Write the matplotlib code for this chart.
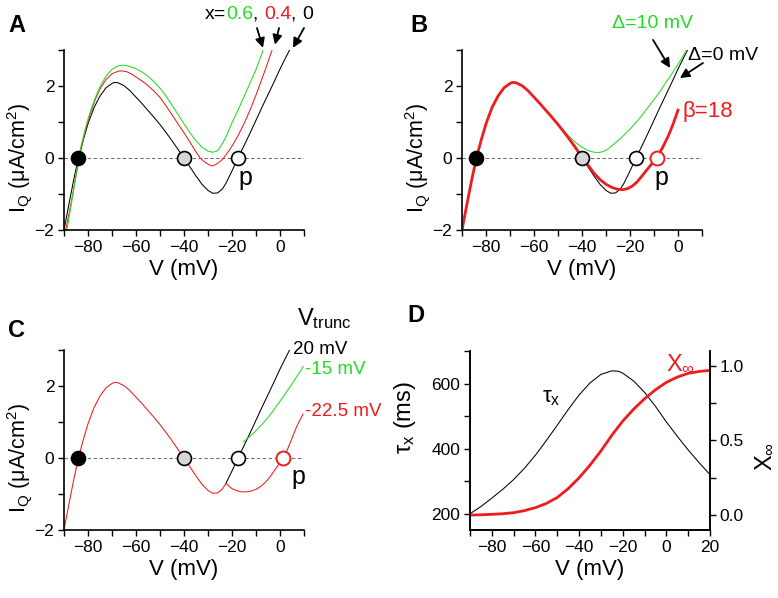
import matplotlib
matplotlib.use('Agg')
import matplotlib.pyplot as plt
from matplotlib.ticker import MultipleLocator, FormatStrFormatter

plt.rcParams['font.family'] = ['Liberation Sans', 'DejaVu Sans']
plt.rcParams['mathtext.default'] = 'regular'

W, H = 778, 598
GREEN = '#22dd22'
RED = '#ee1c1c'
GREY_FILL = '#d6d6d6'

# ---- panel A: I-V curves, x = 0 (black), 0.4 (red), 0.6 (green)
v_x0 = [-90, -88, -86, -84, -82, -80, -77.5, -75, -72.5, -70, -69, -67.5, -65, -62.5, -60,
        -57.5, -55, -52.5, -50, -47.5, -45, -42.5, -40, -37.5, -35, -32.5, -30, -28, -26,
        -24, -22.5, -20, -17.5, -15, -12.5, -10, -7.5, -5, -2.5, 0, 2, 4]
i_x0 = [-2.0, -1.3, -0.62, 0.0, 0.5, 0.95, 1.4, 1.72, 1.95, 2.07, 2.1, 2.09, 2.01, 1.87, 1.69,
        1.51, 1.32, 1.13, 0.93, 0.71, 0.48, 0.24, 0.0, -0.25, -0.5, -0.73, -0.9, -0.98, -0.97,
        -0.86, -0.7, -0.36, 0.0, 0.34, 0.69, 1.05, 1.41, 1.76, 2.11, 2.47, 2.74, 3.0]

v_x04 = [-89.3, -87, -85, -83, -81, -79, -77, -75, -72.5, -70, -67.5, -66, -64, -62, -60,
         -57.5, -55, -52.5, -50, -47.5, -45, -42.5, -40, -37.5, -35, -33.3, -31, -29.5, -28,
         -26.5, -25, -23.5, -22, -20, -17.5, -15, -12.5, -10, -7.5, -5, -3.3]
i_x04 = [-2.0, -1.25, -0.5, 0.2, 0.78, 1.25, 1.62, 1.92, 2.18, 2.34, 2.41, 2.42, 2.4, 2.34, 2.25,
         2.14, 2.01, 1.86, 1.68, 1.45, 1.2, 0.95, 0.7, 0.44, 0.17, 0.0, -0.13, -0.19, -0.22,
         -0.17, -0.1, 0.0, 0.13, 0.33, 0.62, 0.95, 1.33, 1.75, 2.2, 2.67, 3.0]

v_x06 = [-88.8, -87, -85, -83, -81, -79, -77, -75, -72.5, -70, -67.5, -65.5, -63, -60, -57.5,
         -55, -52.5, -50, -47.5, -45, -42.5, -40, -37.5, -35, -32.5, -30, -28, -26, -24, -22,
         -20, -17.5, -15, -12.5, -10, -7]
i_x06 = [-2.0, -1.3, -0.45, 0.3, 0.85, 1.3, 1.67, 1.98, 2.28, 2.46, 2.56, 2.58, 2.55, 2.48, 2.39,
         2.27, 2.12, 1.94, 1.72, 1.47, 1.21, 0.95, 0.7, 0.48, 0.3, 0.19, 0.16, 0.2, 0.4, 0.66,
         0.98, 1.33, 1.7, 2.08, 2.46, 3.0]

fixed_v = [-84, -40, -17.5]

# ---- panel B: the Delta = 0 curve is the x = 0 curve; the others leave it past these points
v_d10_tail = [-57.5, -55, -52.5, -50, -47.5, -45, -42.5, -40, -37.5, -35, -33.2, -31, -29, -27,
              -24, -20, -16, -12, -8, -4, 0, 3.6]
i_d10_tail = [1.51, 1.32, 1.13, 0.94, 0.75, 0.58, 0.42, 0.3, 0.21, 0.16, 0.15, 0.18, 0.26, 0.37,
              0.54, 0.8, 1.1, 1.45, 1.8, 2.2, 2.6, 3.0]

v_b18_tail = [-47.5, -45, -42.5, -40, -37.5, -35, -32.5, -30, -27.5, -25, -23, -21, -19, -17,
              -15, -13, -11, -8.9, -6.5, -4, -2, 0]
i_b18_tail = [0.72, 0.5, 0.27, 0.02, -0.2, -0.42, -0.6, -0.73, -0.82, -0.87, -0.88, -0.85, -0.78,
              -0.66, -0.5, -0.33, -0.17, 0.0, 0.28, 0.62, 0.95, 1.33]
p_v_b = -8.9

# ---- panel C: truncation at -22.5 mV (red), -15 mV (green), 20 mV (black)
v_trunc_red = [-22.5, -21, -20, -18, -16, -14, -12, -10, -8, -6, -4, -2, 0, 1.4, 3, 5, 7, 9.6]
i_trunc_red = [-0.7, -0.8, -0.85, -0.91, -0.94, -0.94, -0.92, -0.87, -0.79, -0.67, -0.51,
               -0.32, -0.13, 0.0, 0.22, 0.55, 0.88, 1.22]
v_trunc_green = [-15.3, -12.5, -9.7, -7, -4.2, -1, 2.8, 5, 7, 9.7]
i_trunc_green = [0.45, 0.6, 0.78, 0.97, 1.19, 1.48, 1.84, 2.06, 2.26, 2.54]
p_v_c = 1.4

# ---- panel D: tau_x and x_inf
v_d = [-90, -85, -80, -75, -70, -65, -60, -55, -50, -45, -40, -35, -30, -25, -22,
       -20, -15, -10, -5, 0, 5, 10, 15, 20]
tau_x = [200, 222, 248, 275, 305, 340, 380, 425, 472, 520, 565, 602, 628, 639, 638,
         632, 608, 573, 530, 482, 438, 396, 357, 320]
v_xinf = [-90, -85, -80, -75, -70, -65, -60, -55, -50, -45, -40, -35, -30, -25, -20,
          -15, -10, -5, 0, 5, 10, 15, 20]
x_inf = [0.0, 0.002, 0.005, 0.009, 0.016, 0.03, 0.05, 0.078, 0.118, 0.177, 0.25, 0.335,
         0.43, 0.535, 0.63, 0.71, 0.78, 0.84, 0.89, 0.925, 0.95, 0.963, 0.97]


def box(left, top, right, bottom):
    return [left / W, 1 - bottom / H, (right - left) / W, (bottom - top) / H]


def px(x, y):
    return x / W, 1 - y / H


def style_iv(ax):
    ax.set_xlim(-90, 10)
    ax.set_ylim(-2, 3)
    ax.spines[['top', 'right']].set_visible(False)
    for s in ax.spines.values():
        s.set_linewidth(1.2)
    ax.xaxis.set_major_locator(MultipleLocator(20))
    ax.xaxis.set_minor_locator(MultipleLocator(10))
    ax.yaxis.set_major_locator(MultipleLocator(2))
    ax.yaxis.set_minor_locator(MultipleLocator(1))
    ax.tick_params(which='both', direction='out', length=4, width=1.0, labelsize=12.5, pad=3)
    ax.axhline(0, color='0.3', lw=0.6, ls=(0, (4, 3)), zorder=1)
    ax.set_xlabel('V (mV)', fontsize=16, labelpad=3)
    ax.set_ylabel('I$_Q$ (μA/cm$^2$)', fontsize=15.5)
    ax.yaxis.set_label_coords(-0.125, 0.4)


def fixed_points(ax):
    kw = dict(ms=10, mew=1.2, ls='none', zorder=5, clip_on=False)
    ax.plot(fixed_v[0], 0, 'o', mfc='black', mec='black', **kw)
    ax.plot(fixed_v[1], 0, 'o', mfc=GREY_FILL, mec='black', **kw)
    ax.plot(fixed_v[2], 0, 'o', mfc='white', mec='black', **kw)


fig = plt.figure(figsize=(W / 100, H / 100), dpi=100)
axA = fig.add_axes(box(64, 50, 304, 230))
axB = fig.add_axes(box(462, 50, 702, 230))
axC = fig.add_axes(box(64, 350, 304, 530))
axD = fig.add_axes(box(470, 351, 710, 530))

thin = 0.75
thick = 2.0
arrow = dict(arrowstyle='-|>', color='black', lw=1.3, mutation_scale=14, shrinkA=0, shrinkB=0)

# A
style_iv(axA)
axA.plot(v_x0, i_x0, color='black', lw=thin)
axA.plot(v_x04, i_x04, color=RED, lw=thin)
axA.plot(v_x06, i_x06, color=GREEN, lw=thin)
fixed_points(axA)
axA.text(-14.5, -0.56, 'p', fontsize=18, ha='center', va='center')

t = fig.text(*px(205, 19), 'x=', fontsize=14, va='baseline')
for s, c in [('0.6', GREEN), (', ', 'black'), ('0.4', RED), (', ', 'black'), ('0', 'black')]:
    t = axA.annotate(s, xy=(1, 0), xycoords=t, va='bottom', fontsize=14, color=c)
for (x0, y0), (x1, y1) in [((-9.6, 3.61), (-7.1, 3.06)), ((-0.4, 3.61), (-2.1, 3.15)),
                           ((10.0, 3.61), (5.4, 3.06))]:
    axA.annotate('', xy=(x1, y1), xytext=(x0, y0), arrowprops=arrow, annotation_clip=False)

# B
style_iv(axB)
k60 = v_x0.index(-60)
k50 = v_x0.index(-50)
axB.plot(v_x0, i_x0, color='black', lw=thin)
axB.plot(v_x0[:k60 + 1] + v_d10_tail, i_x0[:k60 + 1] + i_d10_tail, color=GREEN, lw=thin)
axB.plot(v_x0[:k50 + 1] + v_b18_tail, i_x0[:k50 + 1] + i_b18_tail, color=RED, lw=thick)
fixed_points(axB)
axB.plot(p_v_b, 0, 'o', ms=10, mew=1.4, mfc='white', mec=RED, zorder=6)
axB.text(-7.0, -0.56, 'p', fontsize=18, ha='center', va='center')
fig.text(*px(612, 23), 'Δ=10 mV', fontsize=14, color=GREEN, va='center')
fig.text(*px(688, 55), 'Δ=0 mV', fontsize=14, color='black', va='center')
fig.text(*px(683, 112), 'β=18', fontsize=16, color=RED, va='center')
axB.annotate('', xy=(-3.3, 2.5), xytext=(-10.4, 3.28), arrowprops=arrow, annotation_clip=False)
axB.annotate('', xy=(0.8, 2.22), xytext=(10.4, 2.64), arrowprops=arrow, annotation_clip=False)

# C
style_iv(axC)
k = v_x0.index(-22.5)
axC.plot(v_x0[k:], i_x0[k:], color='black', lw=thin)
axC.plot(v_trunc_green, i_trunc_green, color=GREEN, lw=thin)
axC.plot(v_x0[:k] + v_trunc_red, i_x0[:k] + i_trunc_red, color=RED, lw=thin)
fixed_points(axC)
axC.plot(p_v_c, 0, 'o', ms=10, mew=1.4, mfc='white', mec=RED, zorder=6, clip_on=False)
axC.text(7.5, -0.53, 'p', fontsize=18, ha='center', va='center')
fig.text(*px(297, 319), 'V$_{trunc}$', fontsize=17, va='center')
fig.text(*px(293, 349), '20 mV', fontsize=13.5, va='center')
fig.text(*px(305, 370), '-15 mV', fontsize=13.5, color=GREEN, va='center')
fig.text(*px(305, 412), '-22.5 mV', fontsize=13.5, color=RED, va='center')

# D
axD.set_xlim(-90, 20)
axD.set_ylim(150, 700)
axD.spines['top'].set_visible(False)
for s in axD.spines.values():
    s.set_linewidth(1.2)
axD.xaxis.set_major_locator(MultipleLocator(20))
axD.xaxis.set_minor_locator(MultipleLocator(10))
axD.yaxis.set_major_locator(MultipleLocator(200))
axD.yaxis.set_minor_locator(MultipleLocator(100))
axD.tick_params(which='both', direction='out', length=4, width=1.0, labelsize=12.5, pad=3)
axD.plot(v_d, tau_x, color='black', lw=thin)
axD.set_xlabel('V (mV)', fontsize=16, labelpad=3)
axD.set_ylabel('τ$_x$ (ms)', fontsize=17)
axD.yaxis.set_label_coords(-0.215, 0.63)
axD.text(-52.8, 557, 'τ$_x$', fontsize=16, ha='center', va='center')

axD2 = axD.twinx()
axD2.set_ylim(-0.1, 1.1)
axD2.spines['top'].set_visible(False)
for s in axD2.spines.values():
    s.set_linewidth(1.2)
axD2.yaxis.set_major_locator(MultipleLocator(0.5))
axD2.yaxis.set_minor_locator(MultipleLocator(0.25))
axD2.yaxis.set_major_formatter(FormatStrFormatter('%.1f'))
axD2.tick_params(which='both', direction='out', length=4, width=1.0, labelsize=12.5, pad=3)
axD2.plot(v_xinf, x_inf, color=RED, lw=thick)
axD2.set_ylabel('X$_∞$', fontsize=17)
axD2.yaxis.set_label_coords(1.185, 0.41)
axD2.text(6.3, 1.01, 'X$_∞$', fontsize=17, color=RED, ha='center', va='center')

for lab, (x, y) in zip('ABCD', [(8, 32), (410, 32), (8, 337), (407, 322)]):
    fig.text(*px(x, y), lab, fontsize=17, fontweight='bold', va='baseline')

fig.savefig('out.png', dpi=100)
